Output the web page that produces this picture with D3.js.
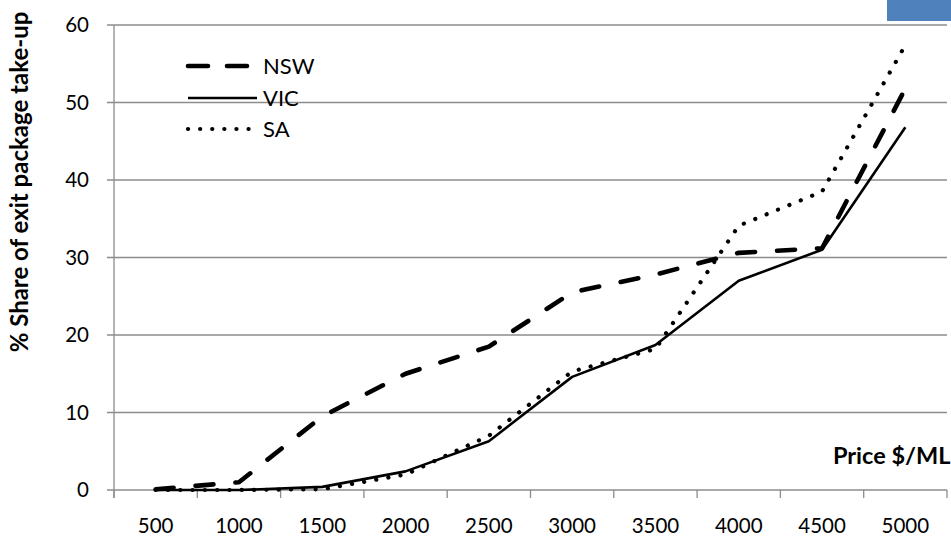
<!DOCTYPE html>
<html><head><meta charset="utf-8">
<script src="https://cdn.jsdelivr.net/npm/d3@7"></script>
<style>body{margin:0;background:#fff}svg{display:block}text{font-family:Lato,"Open Sans",sans-serif}</style>
</head><body>
<svg id="c" width="951" height="537"></svg>
<script>
const categories = ["500","1000","1500","2000","2500","3000","3500","4000","4500","5000"];
const nsw = [0.1, 1.0, 9.5, 15.0, 18.5, 25.5, 27.8, 30.6, 31.2, 51.8];
const vic = [0.0, 0.0, 0.4, 2.4, 6.3, 14.6, 18.7, 27.0, 31.0, 46.8];
const sa  = [0.0, 0.0, 0.1, 2.0, 7.0, 15.3, 18.2, 34.1, 38.5, 57.4];
const yTicks = [0,10,20,30,40,50,60];
const seriesNames = ["NSW","VIC","SA"];

const svg = d3.select("#c");
const x = d3.scaleBand().domain(categories).range([114, 947]);
const y = d3.scaleLinear().domain([0, 60]).range([490, 25]);
const grid = "#8c8c8c";

// decorative blue box top right
svg.append("rect").attr("x",887).attr("y",0).attr("width",64).attr("height",21).attr("fill","#4F81BD");

// gridlines
svg.append("g").selectAll("line").data(yTicks).join("line")
  .attr("x1",107).attr("x2",947).attr("y1",d=>y(d)).attr("y2",d=>y(d))
  .attr("stroke",grid).attr("stroke-width",1.3);
// y axis line
svg.append("line").attr("x1",114).attr("x2",114).attr("y1",y(60)).attr("y2",498)
  .attr("stroke",grid).attr("stroke-width",1.3);
// x ticks at band edges
const edges = categories.map(c=>x(c)).concat([x.range()[1]]);
svg.append("g").selectAll("line").data(edges).join("line")
  .attr("x1",d=>d).attr("x2",d=>d).attr("y1",490).attr("y2",498)
  .attr("stroke",grid).attr("stroke-width",1.3);

// y tick labels
svg.append("g").selectAll("text").data(yTicks).join("text")
  .attr("x",89).attr("y",d=>y(d)).attr("dy","0.35em").attr("text-anchor","end")
  .attr("font-size",20.5).attr("fill","#000").text(d=>d);
// x tick labels
svg.append("g").selectAll("text").data(categories).join("text")
  .attr("x",d=>x(d)+x.bandwidth()/2).attr("y",526).attr("dy","0.35em").attr("text-anchor","middle")
  .attr("font-size",20.5).attr("fill","#000").text(d=>d);

// axis titles
svg.append("text").attr("transform","translate(20,182) rotate(-90)").attr("text-anchor","middle")
  .attr("dy","0.35em").attr("font-size",24).attr("font-weight","bold").text("% Share of exit package take-up");
svg.append("text").attr("x",833).attr("y",456).attr("dy","0.35em")
  .attr("font-size",23.5).attr("font-weight","bold").text("Price $/ML");

const styles = {
  NSW:{w:4.6, dash:"18,22", cap:"round"},
  VIC:{w:2.6, dash:null, cap:"butt"},
  SA:{w:4.2, dash:"0.1,12.2", cap:"round"}
};
const dataMap = {NSW:nsw, VIC:vic, SA:sa};
const line = d3.line().x((d,i)=>x(categories[i])+x.bandwidth()/2).y(d=>y(d));

seriesNames.forEach(n=>{
  const s = styles[n];
  const p = svg.append("path").datum(dataMap[n]).attr("d",line)
    .attr("fill","none").attr("stroke","#000").attr("stroke-width",s.w)
    .attr("stroke-linecap",s.cap).attr("stroke-linejoin","round");
  if (s.dash) p.attr("stroke-dasharray",s.dash);
});

// legend
const legY = [66,98,129];
seriesNames.forEach((n,i)=>{
  const s = styles[n];
  const l = svg.append("line").attr("x1",188).attr("x2",n==="VIC"?257:248).attr("y1",legY[i]).attr("y2",legY[i])
    .attr("stroke","#000").attr("stroke-width",s.w).attr("stroke-linecap",s.cap);
  if (n==="NSW") l.attr("stroke-dasharray","20,19").attr("x1",188).attr("x2",248);
  if (n==="SA") l.attr("stroke-dasharray","0.1,12").attr("x1",188).attr("x2",250);
  svg.append("text").attr("x",263).attr("y",legY[i]).attr("dy","0.36em").attr("font-size",22).text(n);
});
</script>
</body></html>
